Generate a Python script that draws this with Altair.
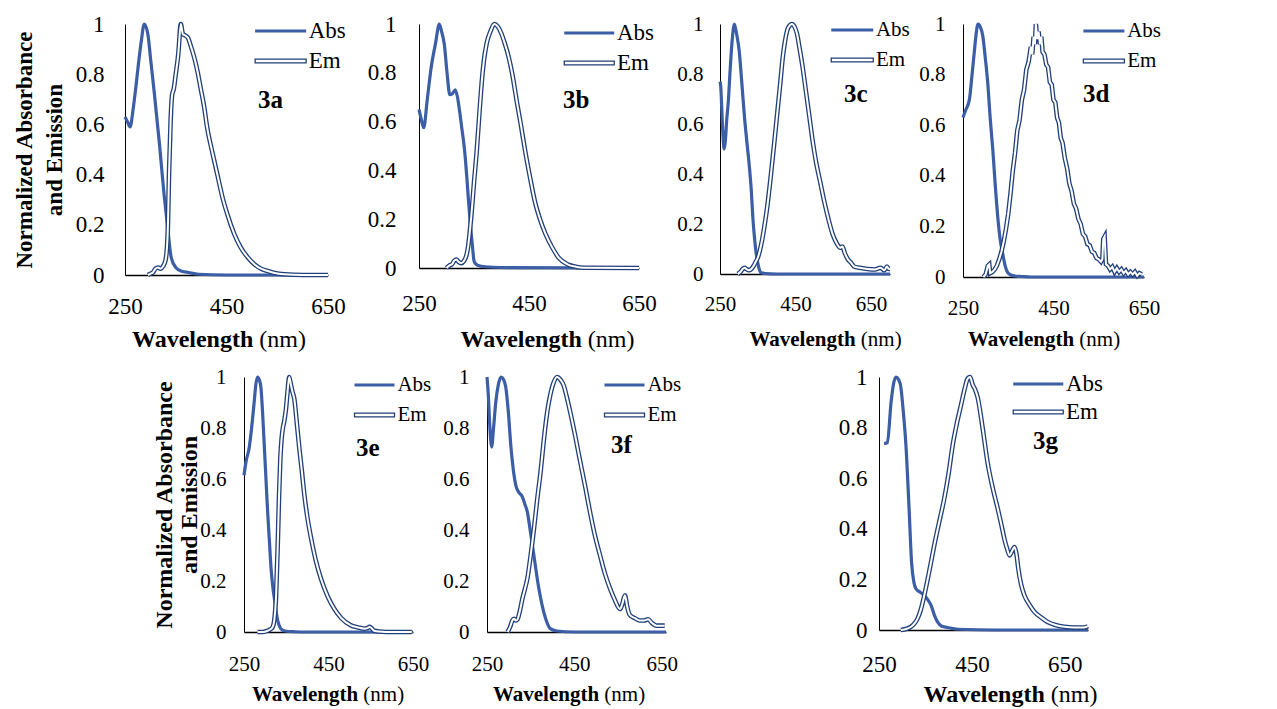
import altair as alt
import pandas as pd

FONT = "Liberation Serif"
ABS_COLOR = "#3B5EA6"
EM_COLOR = "#213F78"

# ---------------- data ----------------
A_ABS_NM = [250, 255, 260, 266, 272, 277, 282, 288, 295, 301, 308, 318, 327, 334, 341, 350, 362, 375, 395, 450, 550, 650]
A_ABS_V = [0.63, 0.61, 0.59, 0.66, 0.76, 0.85, 0.93, 1.0, 0.96, 0.85, 0.72, 0.52, 0.32, 0.19, 0.07, 0.03, 0.015, 0.01, 0.003, 0.0, 0.0, 0.0]
A_EM_NM = [295, 300, 305, 310, 315, 320, 325, 330, 334, 337, 340, 343, 346, 350, 355, 360, 364, 368, 374, 380, 386, 393, 399, 406, 412, 422, 432, 442, 452, 465, 478, 492, 505, 518, 531, 545, 564, 600, 650]
A_EM_V = [0.0, 0.005, 0.01, 0.025, 0.03, 0.025, 0.035, 0.06, 0.16, 0.42, 0.62, 0.72, 0.74, 0.80, 0.88, 1.0, 0.96, 0.955, 0.945, 0.91, 0.87, 0.81, 0.745, 0.67, 0.586, 0.49, 0.40, 0.31, 0.24, 0.165, 0.11, 0.07, 0.043, 0.025, 0.016, 0.008, 0.003, 0.0, 0.0]

B_ABS_NM = [250, 254, 258.6, 265, 272, 280, 287, 291, 296, 301, 306, 311, 316, 320, 324, 328, 333, 337, 340, 343, 345, 348, 350, 354, 358, 370, 400, 650]
B_ABS_V = [0.65, 0.61, 0.575, 0.69, 0.82, 0.92, 1.0, 0.97, 0.917, 0.80, 0.71, 0.715, 0.73, 0.70, 0.64, 0.57, 0.48, 0.37, 0.275, 0.19, 0.14, 0.07, 0.029, 0.015, 0.01, 0.005, 0.002, 0.0]
B_EM_NM = [300, 305, 310, 314, 318, 322, 327, 332, 336, 339, 342, 345, 350, 355, 360, 364, 368, 373, 380, 387, 393, 400, 406, 413, 420, 428, 435, 443, 452, 461, 470, 480, 492, 504, 520, 535, 550, 650]
B_EM_V = [0.0, 0.01, 0.015, 0.03, 0.035, 0.025, 0.02, 0.03, 0.05, 0.083, 0.14, 0.21, 0.35, 0.48, 0.64, 0.76, 0.85, 0.92, 0.97, 1.0, 0.99, 0.96, 0.92, 0.865, 0.79, 0.68, 0.59, 0.48, 0.37, 0.27, 0.2, 0.14, 0.085, 0.042, 0.015, 0.005, 0.001, 0.0]

C_ABS_NM = [250, 252, 255, 258, 261, 264, 268, 272, 277, 282, 288, 294, 301, 308, 315, 321, 328, 333, 337, 341, 346, 352, 359, 370, 400, 700]
C_ABS_V = [0.77, 0.75, 0.65, 0.55, 0.50, 0.53, 0.62, 0.69, 0.82, 0.93, 1.0, 0.96, 0.89, 0.76, 0.625, 0.53, 0.425, 0.33, 0.225, 0.15, 0.08, 0.03, 0.005, 0.002, 0.0, 0.0]
C_EM_NM = [297, 305, 310, 315, 320, 326, 333, 340, 345, 350, 358, 367, 376, 385, 394, 403, 410, 416, 422, 429, 435, 440, 447, 454, 461, 469, 478, 487, 495, 504, 515, 526, 537, 548, 560, 568, 574, 580, 588, 597, 605, 620, 640, 660, 675, 685, 692, 697, 700]
C_EM_V = [0.0, 0.01, 0.02, 0.025, 0.02, 0.015, 0.02, 0.035, 0.05, 0.065, 0.11, 0.185, 0.28, 0.40, 0.53, 0.665, 0.77, 0.865, 0.93, 0.98, 0.995, 1.0, 0.99, 0.96, 0.9, 0.825, 0.725, 0.625, 0.535, 0.45, 0.37, 0.29, 0.22, 0.16, 0.12, 0.105, 0.11, 0.085, 0.06, 0.045, 0.03, 0.025, 0.02, 0.018, 0.025, 0.015, 0.03, 0.02, 0.02]

D_ABS_NM = [250, 256, 264, 270, 275, 279, 283, 288, 294, 299, 305, 310, 316, 321, 327, 332, 338, 343, 349, 356, 365, 380, 400, 450, 650]
D_ABS_V = [0.63, 0.66, 0.70, 0.80, 0.89, 0.96, 1.0, 0.99, 0.95, 0.87, 0.76, 0.63, 0.5, 0.37, 0.234, 0.15, 0.09, 0.045, 0.017, 0.008, 0.004, 0.002, 0.0, 0.0, 0.0]
D_EM_NM = [295, 300, 305, 308, 310, 315, 320, 325, 330, 335, 340, 345, 350, 355, 360, 365, 370, 375, 380, 385, 390, 395, 400, 403, 406, 409, 411, 414, 417, 420, 423, 426, 430, 434, 438, 442, 446, 450, 454, 458, 462, 466, 470, 475, 480, 485, 490, 495, 500, 505, 510, 515, 520, 525, 530, 535, 540, 545, 550, 555, 558, 560, 563, 566, 570, 575, 580, 585, 590, 595, 600, 605, 610, 615, 620, 625, 630, 635, 640, 645]
D_EM_V = [0.0, 0.01, 0.045, 0.05, 0.015, 0.02, 0.03, 0.045, 0.07, 0.10, 0.14, 0.19, 0.25, 0.33, 0.42, 0.49, 0.58, 0.62, 0.70, 0.74, 0.82, 0.85, 0.91, 0.88, 0.95, 0.92, 1.0, 0.94, 0.97, 0.92, 0.95, 0.89, 0.88, 0.84, 0.83, 0.77, 0.76, 0.70, 0.69, 0.63, 0.61, 0.55, 0.53, 0.47, 0.43, 0.37, 0.34, 0.29, 0.27, 0.23, 0.21, 0.17, 0.16, 0.13, 0.125, 0.10, 0.095, 0.075, 0.07, 0.06, 0.07, 0.15, 0.16, 0.05, 0.045, 0.03, 0.04, 0.02, 0.035, 0.02, 0.03, 0.015, 0.025, 0.01, 0.02, 0.01, 0.02, 0.005, 0.015, 0.01]

E_ABS_NM = [250, 255, 262, 268, 274, 278, 282, 286, 290, 294, 298, 302, 306, 310, 314, 318, 323, 328, 333, 340, 350, 370, 400, 650]
E_ABS_V = [0.615, 0.67, 0.72, 0.80, 0.90, 0.97, 1.0, 0.99, 0.96, 0.86, 0.73, 0.60, 0.47, 0.36, 0.25, 0.18, 0.118, 0.06, 0.026, 0.008, 0.003, 0.001, 0.0, 0.0]
E_EM_NM = [282, 295, 306, 312, 318, 322, 326, 330, 333, 336, 339, 342, 345, 349, 353, 357, 361, 365, 369, 375, 381, 387, 393, 400, 409, 420, 432, 448, 464, 480, 503, 520, 535, 542, 547, 552, 558, 570, 600, 647]
E_EM_V = [0.0, 0.0, 0.005, 0.01, 0.02, 0.05, 0.144, 0.35, 0.536, 0.68, 0.758, 0.80, 0.824, 0.87, 0.94, 1.0, 0.97, 0.94, 0.915, 0.82, 0.72, 0.63, 0.536, 0.45, 0.366, 0.28, 0.21, 0.14, 0.09, 0.055, 0.026, 0.018, 0.013, 0.015, 0.02, 0.015, 0.005, 0.002, 0.0, 0.0]

F_ABS_NM = [250, 253, 256, 260.6, 265, 270, 276, 282, 288, 293, 299, 304.5, 310, 316, 322, 331, 337, 342.5, 348, 354, 360, 365, 372, 380, 388, 395, 410, 450, 660]
F_ABS_V = [1.0, 0.93, 0.82, 0.725, 0.80, 0.90, 0.97, 1.0, 0.99, 0.96, 0.86, 0.732, 0.64, 0.575, 0.55, 0.53, 0.50, 0.47, 0.41, 0.34, 0.27, 0.21, 0.14, 0.078, 0.035, 0.013, 0.004, 0.0, 0.0]
F_EM_NM = [297, 303, 308, 312, 316, 320, 325, 331, 337, 342.5, 350, 357.6, 365, 372.7, 380, 388, 395, 403, 410.6, 418, 425.7, 433, 441, 452, 463.6, 475, 486, 497, 509, 520, 532, 543, 554.5, 560, 566, 571, 577, 588, 600, 610, 619, 628, 638, 650, 657]
F_EM_V = [0.0, 0.02, 0.045, 0.052, 0.045, 0.05, 0.08, 0.13, 0.17, 0.21, 0.30, 0.405, 0.52, 0.627, 0.75, 0.863, 0.93, 0.98, 1.0, 0.99, 0.967, 0.92, 0.86, 0.77, 0.667, 0.57, 0.47, 0.38, 0.30, 0.23, 0.17, 0.125, 0.09, 0.11, 0.144, 0.10, 0.067, 0.055, 0.045, 0.045, 0.05, 0.035, 0.025, 0.025, 0.025]

G_ABS_NM = [261, 268, 276, 281, 286.6, 292, 297, 302, 308, 315, 320, 325, 329.6, 338, 347.5, 355, 362, 369, 376, 385, 397.6, 420, 500, 700]
G_ABS_V = [0.737, 0.74, 0.90, 0.97, 1.0, 0.99, 0.96, 0.87, 0.73, 0.47, 0.27, 0.19, 0.163, 0.15, 0.137, 0.12, 0.098, 0.06, 0.032, 0.015, 0.01, 0.003, 0.0, 0.0]
G_EM_NM = [297, 310, 319, 326, 333, 340, 347.5, 358, 369, 380, 390.6, 400, 408.6, 418, 426.5, 434, 441, 446, 451.6, 457, 462.4, 473, 484, 495, 505.6, 513, 520, 526, 531, 536, 541.6, 546, 550, 556, 563, 574, 585, 599, 613, 630, 649, 670, 692, 700]
G_EM_V = [0.0, 0.005, 0.013, 0.025, 0.045, 0.08, 0.137, 0.23, 0.335, 0.43, 0.52, 0.62, 0.73, 0.82, 0.888, 0.95, 0.994, 1.0, 0.97, 0.95, 0.92, 0.80, 0.66, 0.56, 0.48, 0.42, 0.36, 0.32, 0.295, 0.31, 0.328, 0.30, 0.242, 0.18, 0.137, 0.10, 0.071, 0.05, 0.032, 0.02, 0.013, 0.01, 0.01, 0.015]

Y_TICKS = [0, 0.2, 0.4, 0.6, 0.8, 1]
X_TICKS = [250, 450, 650]
Y_TITLE = ["Normalized Absorbance", "and Emission"]

# ---------------- layout of each panel ----------------
LAYOUT = {
    "a": dict(label="3a", xmax=650, pw=203, w=294, h=251, L=51, lx=125, aly=7, ely=37, tdx=133, tb=85,
              ytitle=(23, 30, 9), ylp=21, xlp=31, J=127.8, xfs=24, xty=64, tfs=23, lfs=23, interp="monotone"),
    "b": dict(label="3b", xmax=650, pw=220, w=301, h=244, L=50, lx=140, aly=9, ely=39, tdx=144, tb=85,
              ytitle=None, ylp=23, xlp=35, J=162.3, xfs=24, xty=71, tfs=23, lfs=23, interp="monotone"),
    "c": dict(label="3c", xmax=700, pw=170, w=243, h=250, L=42, lx=106, aly=6, ely=36, tdx=124, tb=79,
              ytitle=None, ylp=17, xlp=30, J=135.1, xfs=21, xty=65, tfs=21, lfs=21, interp="monotone"),
    "d": dict(label="3d", xmax=650, pw=181, w=181, h=253, L=41, lx=115, aly=7, ely=37, tdx=120, tb=79,
              ytitle=None, ylp=18, xlp=31, J=110.6, xfs=21, xty=62, tfs=21, lfs=21, interp="linear"),
    "e": dict(label="3e", xmax=650, pw=169, w=243, h=255, L=40, lx=105, aly=8, ely=38, tdx=112, tb=80,
              ytitle=(24, 25, -2), ylp=18, xlp=32, J=113.6, xfs=21, xty=62, tfs=21, lfs=21, interp="monotone"),
    "f": dict(label="3f", xmax=660, pw=179, w=392, h=255, L=40, lx=112, aly=8, ely=38, tdx=124, tb=77,
              ytitle=None, ylp=18, xlp=32, J=111.6, xfs=21, xty=62, tfs=21, lfs=21, interp="monotone"),
    "g": dict(label="3g", xmax=700, pw=209, w=209, h=253, L=50, lx=129, aly=7, ely=35, tdx=154, tb=73,
              ytitle=None, ylp=12, xlp=34, J=165.3, xfs=24, xty=64, tfs=23, lfs=23, interp="monotone"),
}

TITLE_SHIFT = 35
ABS_SW = 3.2
ABS_SYMBOL = "M-1,0H7"


def em_symbol(L):
    h = round(15.0 / L, 3)
    return f"M-1,-{h}H7V{h}H-1Z"


def make_panel(abs_nm, abs_v, em_nm, em_v, p):
    abs_df = pd.DataFrame({"nm": abs_nm, "v": abs_v, "series": ["Abs"] * len(abs_nm)})
    em_df = pd.DataFrame({"nm": em_nm, "v": em_v, "series": ["Em"] * len(em_nm)})

    xs = alt.Scale(domain=[250, p["xmax"]], range=[0, p["pw"]], nice=False, zero=False)
    ys = alt.Scale(domain=[0, 1], nice=False)

    ykw = dict(values=Y_TICKS, format="~g", grid=False, ticks=False, tickSize=0,
               domainColor="black", domainWidth=1, labelFont=FONT, labelFontSize=p["tfs"],
               labelColor="black", labelPadding=p["ylp"], labelBaseline="middle", labelAlign="right")
    if p["ytitle"]:
        fs, lh, pad = p["ytitle"]
        ykw.update(title=Y_TITLE, titleFont=FONT, titleFontSize=fs, titleFontWeight="bold",
                   titleColor="black", titleLineHeight=lh, titlePadding=pad)
    else:
        ykw.update(title=None)
    y = alt.Y("v:Q", scale=ys, axis=alt.Axis(**ykw))

    x_main = alt.X("nm:Q", scale=xs, axis=alt.Axis(
        values=X_TICKS, grid=False, ticks=False, tickSize=0, domainColor="black", domainWidth=1.5,
        labelFont=FONT, labelFontSize=p["tfs"], labelColor="black", labelPadding=p["xlp"],
        labelBaseline="middle", labelFlush=False, labelOverlap=False,
        title="(nm)", titleFont=FONT, titleFontSize=p["xfs"], titleFontWeight="normal",
        titleColor="black", titleAlign="left", titleBaseline="middle",
        titleX=p["J"] + 0.25 * p["xfs"], titleY=p["xty"]))
    x_bold = alt.X("nm:Q", scale=xs, axis=alt.Axis(
        orient="bottom", labels=False, ticks=False, domain=False, grid=False,
        title="Wavelength", titleFont=FONT, titleFontSize=p["xfs"], titleFontWeight="bold",
        titleColor="black", titleAlign="right", titleBaseline="middle",
        titleX=p["J"], titleY=p["xty"]))
    x_none = alt.X("nm:Q", scale=xs, axis=None)

    L = p["L"]
    ssize = (L / 4.0) ** 2
    loff = 0.75 * L - 1 - ABS_SW / 2
    half = p["lfs"] / 2.0
    abs_leg = alt.Legend(orient="none", legendX=p["lx"], legendY=p["aly"] - half,
                         title=None, symbolType=ABS_SYMBOL, symbolSize=ssize,
                         symbolStrokeWidth=ABS_SW, labelFont=FONT, labelFontSize=p["lfs"],
                         labelColor="black", labelOffset=loff, padding=0)
    em_leg = alt.Legend(orient="none", legendX=p["lx"], legendY=p["ely"] - half,
                        title=None, symbolType=em_symbol(L), symbolSize=ssize,
                        symbolStrokeWidth=1.3, symbolFillColor="white", labelFont=FONT,
                        labelFontSize=p["lfs"], labelColor="black", labelOffset=loff, padding=0)

    abs_line = alt.Chart(abs_df).mark_line(strokeWidth=ABS_SW, interpolate="monotone").encode(
        x=x_main, y=y,
        color=alt.Color("series:N", scale=alt.Scale(domain=["Abs"], range=[ABS_COLOR]), legend=abs_leg))
    em_outer = alt.Chart(em_df).mark_line(strokeWidth=4.6, interpolate=p["interp"]).encode(
        x=x_bold, y=y,
        color=alt.Color("series:N", scale=alt.Scale(domain=["Em"], range=[EM_COLOR]), legend=em_leg))
    em_inner = alt.Chart(em_df).mark_line(color="white", strokeWidth=2.0, interpolate=p["interp"]).encode(
        x=x_none, y=y)

    return alt.layer(abs_line, em_outer, em_inner).resolve_scale(
        color="independent").resolve_axis(x="independent").properties(
        width=p["w"], height=p["h"],
        title=alt.TitleParams(text=p["label"], anchor="start", frame="group", orient="top", offset=0,
                              dx=p["tdx"], dy=p["tb"] + TITLE_SHIFT, font=FONT, fontSize=25,
                              fontWeight="bold", color="black", baseline="alphabetic"))


pa = make_panel(A_ABS_NM, A_ABS_V, A_EM_NM, A_EM_V, LAYOUT["a"])
pb = make_panel(B_ABS_NM, B_ABS_V, B_EM_NM, B_EM_V, LAYOUT["b"])
pc = make_panel(C_ABS_NM, C_ABS_V, C_EM_NM, C_EM_V, LAYOUT["c"])
pd_ = make_panel(D_ABS_NM, D_ABS_V, D_EM_NM, D_EM_V, LAYOUT["d"])
pe = make_panel(E_ABS_NM, E_ABS_V, E_EM_NM, E_EM_V, LAYOUT["e"])
pf = make_panel(F_ABS_NM, F_ABS_V, F_EM_NM, F_EM_V, LAYOUT["f"])
pg = make_panel(G_ABS_NM, G_ABS_V, G_EM_NM, G_EM_V, LAYOUT["g"])

# invisible spacer that shifts the second row to the right
spacer = alt.Chart(pd.DataFrame({"s": [0]})).mark_point(opacity=0).properties(width=119, height=20)

top = alt.hconcat(pa, pb, pc, pd_, spacing=0, bounds="flush")
bottom = alt.hconcat(spacer, pe, pf, pg, spacing=0, bounds="flush")

chart = alt.vconcat(top, bottom, spacing=15).configure_view(stroke=None)

chart.save("out.html", embed_options={"renderer": "svg", "actions": False})
